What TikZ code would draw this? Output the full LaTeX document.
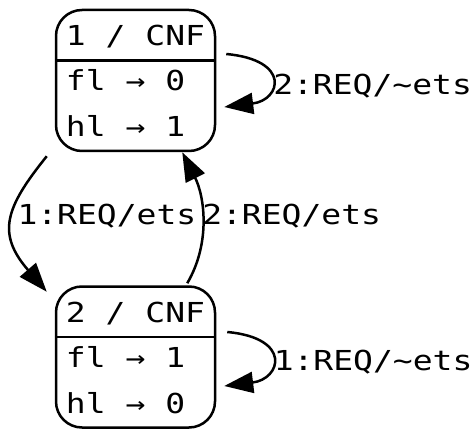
\documentclass[tikz,border=0pt]{standalone}
\usepackage{fontspec}
\newfontfamily\statefont[FakeStretch=1.2]{DejaVu Sans Mono}
\usetikzlibrary{arrows.meta}

\begin{document}
\begin{tikzpicture}[x=1pt,y=1pt]
	\tikzstyle{state}=[draw=black,line width=2.5pt,rounded corners=26pt,minimum width=159pt,minimum height=141pt,inner sep=0pt]
	\tikzstyle{field}=[font=\statefont\fontsize{27.5}{33}\selectfont,inner sep=0pt,anchor=base west]
	\tikzstyle{trans}=[font=\statefont\fontsize{27.5}{33}\selectfont,inner sep=1pt,anchor=west]
	\tikzstyle{edge}=[draw,line width=2.5pt,-{Triangle[length=29pt,width=21pt]}]
	\useasboundingbox (0,0) rectangle (471,429);
	\begin{scope}
		\node [state] (s1) at (135.5,348.5) {};
		\node [state] (s2) at (135.5,72) {};

		\node [field] (s1h) at ([shift={(11,35)}]s1.west) {1 / CNF};
		\node [field] (s1f) at ([shift={(11,-10)}]s1.west) {fl → 0};
		\node [field] (s1l) at ([shift={(11,-56)}]s1.west) {hl → 1};
		\draw [line width=2.5pt] ([yshift=20pt]s1.west) -- ([yshift=20pt]s1.east);

		\node [field] (s2h) at ([shift={(11,35)}]s2.west) {2 / CNF};
		\node [field] (s2f) at ([shift={(11,-10)}]s2.west) {fl → 1};
		\node [field] (s2l) at ([shift={(11,-56)}]s2.west) {hl → 0};
		\draw [line width=2.5pt] ([yshift=20pt]s2.west) -- ([yshift=20pt]s2.east);

		\path [edge] ([shift={(10,26.5)}]s1.east) .. controls +(65,-6) and +(57,7) .. node [trans,yshift=-6pt] (t11) {2:REQ/\textasciitilde ets} ([shift={(8,-26.5)}]s1.east);
		\path [edge] ([shift={(11,25)}]s2.east) .. controls +(65,-6) and +(57,7) .. node [trans,yshift=-3pt] (t22) {1:REQ/\textasciitilde ets} ([shift={(8,-29)}]s2.east);
		\path [edge] ([shift={(-8,-4)}]s1.south west) .. controls +(-42,-52) and +(-50,58) .. node [trans,xshift=3pt,yshift=6pt] (t12) {1:REQ/ets} ([shift={(-8,-6.5)}]s2.north west);
		\path [edge] ([shift={(-29,2)}]s2.north east) .. controls +(24,41) and +(22,-43.5) .. node [trans,xshift=-2pt,yshift=3pt] (t21) {2:REQ/ets} ([shift={(-34,0)}]s1.south east);
	\end{scope}
\end{tikzpicture}
\end{document}
